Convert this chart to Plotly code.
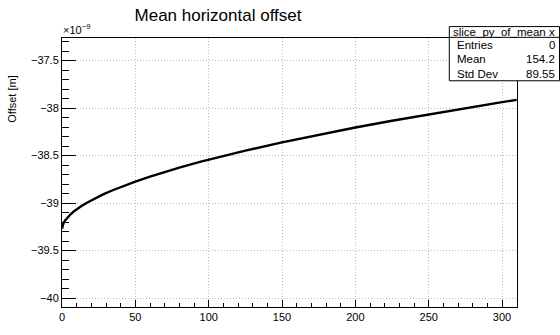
import plotly.graph_objects as go

# Mean horizontal offset per slice, in units of 1e-9 m
slice_x = [0, 0.5, 1, 2, 4, 6, 8, 10, 13, 17, 22, 28, 35, 43, 50, 60, 70, 80,
           94, 110, 125, 150, 175, 200, 225, 250, 275, 300, 310]
offset_nm = [-39.27, -39.24, -39.212, -39.185, -39.146, -39.115, -39.089, -39.065,
             -39.033, -38.996, -38.954, -38.909, -38.862, -38.813, -38.773, -38.721,
             -38.672, -38.627, -38.567, -38.503, -38.448, -38.361, -38.280, -38.205,
             -38.134, -38.066, -38.001, -37.937, -37.914]

stat_title = "slice_py_of_mean x"
stat_names = ["Entries", "Mean", "Std Dev"]
stat_values = ["0", "154.2", "89.55"]

FONT = "Liberation Sans, Arial, Helvetica, sans-serif"

# page geometry of the plotting frame
L, R, T, B = 62, 43, 38, 14
W, H = 560, 335
PW, PH = W - L - R, H - T - B


def px(xp):
    return (xp - L) / PW


def py(yp):
    return (H - B - yp) / PH


fig = go.Figure()
fig.add_trace(go.Scatter(x=slice_x, y=offset_nm, mode="lines",
                         line=dict(color="black", width=2.4), hoverinfo="skip",
                         showlegend=False))

axis_common = dict(
    showline=True, linecolor="black", linewidth=1, mirror=True,
    ticks="inside", tickcolor="black", showgrid=True, gridcolor="#bdbdbd",
    griddash="1px,2px", gridwidth=1, zeroline=False,
    tickfont=dict(family=FONT, size=11, color="black"),
)

fig.update_xaxes(range=[0, 310.2], tick0=0, dtick=50, ticklen=7,
                 minor=dict(ticks="inside", ticklen=4, dtick=10, tickcolor="black",
                            showgrid=False),
                 **axis_common)
fig.update_yaxes(range=[-40.093, -37.263], tick0=-40, dtick=0.5, ticklen=14,
                 minor=dict(ticks="inside", ticklen=7, dtick=0.1, tickcolor="black",
                            showgrid=False),
                 **axis_common)

annotations = [
    dict(text="Offset [m]", x=px(12), y=py(103), xref="paper", yref="paper",
         textangle=-90, showarrow=False, xanchor="center", yanchor="middle",
         font=dict(family=FONT, size=11, color="black")),
    dict(text="×10<sup>−9</sup>", x=px(61), y=py(38), xref="paper", yref="paper",
         showarrow=False, xanchor="left", yanchor="bottom",
         font=dict(family=FONT, size=11, color="black")),
]

# statistics box
bx0, bx1, by0, by1, bsep = 449.3, 559.5, 26, 83, 37.3
shapes = [
    dict(type="rect", xref="paper", yref="paper", x0=px(bx0), x1=px(bx1),
         y0=py(by1), y1=py(by0), fillcolor="white", line=dict(color="black", width=1),
         layer="above"),
    dict(type="line", xref="paper", yref="paper", x0=px(bx0), x1=px(bx1),
         y0=py(bsep), y1=py(bsep), line=dict(color="black", width=1), layer="above"),
]
annotations.append(dict(text=stat_title, x=px((bx0 + bx1) / 2), y=py((by0 + bsep) / 2 + 0.5),
                        xref="paper", yref="paper", showarrow=False, xanchor="center",
                        yanchor="middle", font=dict(family=FONT, size=11.5, color="black")))
row_h = (by1 - bsep) / len(stat_names)
for i, (name, val) in enumerate(zip(stat_names, stat_values)):
    yc = bsep + row_h * (i + 0.5)
    annotations.append(dict(text=name, x=px(455), y=py(yc), xref="paper", yref="paper",
                            showarrow=False, xanchor="left", yanchor="middle",
                            font=dict(family=FONT, size=11.5, color="black")))
    annotations.append(dict(text=val, x=px(557), y=py(yc), xref="paper", yref="paper",
                            showarrow=False, xanchor="right", yanchor="middle",
                            font=dict(family=FONT, size=11.5, color="black")))

fig.update_layout(
    width=W, height=H,
    margin=dict(l=L, r=R, t=T, b=B),
    paper_bgcolor="white", plot_bgcolor="white",
    title=dict(text="Mean horizontal offset", x=px(218), xref="paper", xanchor="center",
               y=1 - 15 / H, yref="container", yanchor="middle",
               font=dict(family=FONT, size=17, color="black")),
    shapes=shapes, annotations=annotations,
)

fig.write_html("out.html")
